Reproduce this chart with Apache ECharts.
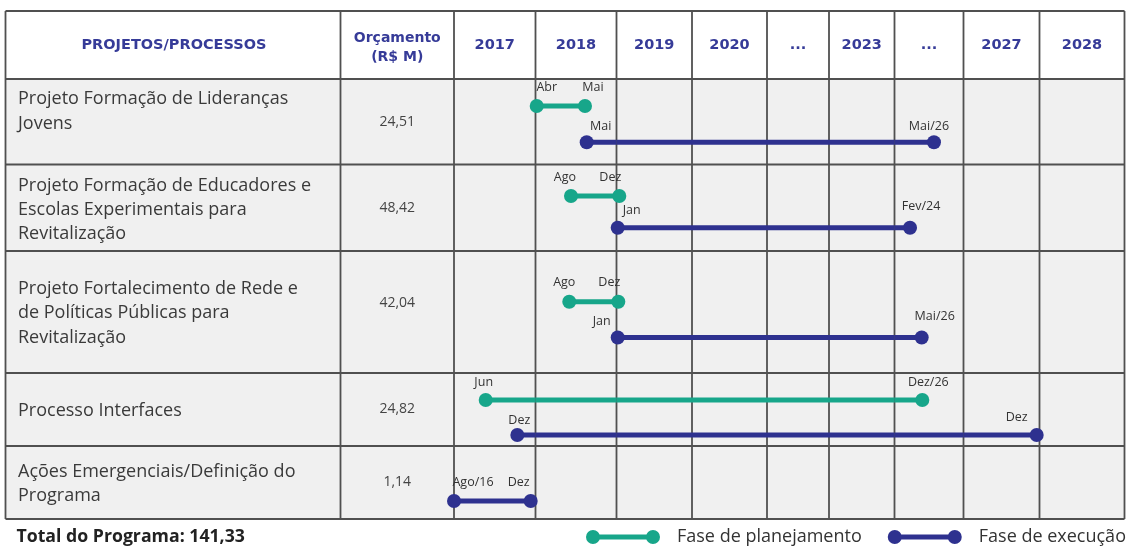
<!DOCTYPE html>
<html><head><meta charset="utf-8">
<script src="https://cdn.jsdelivr.net/npm/echarts@6/dist/echarts.min.js"></script>
<style>html,body{margin:0;padding:0;background:#fff}#c{width:1131px;height:547px}</style>
</head><body><div id="c"></div>
<script>
// ---------------- DATA ----------------
const projects = [
  'Projeto Formação de Lideranças\nJovens',
  'Projeto Formação de Educadores e\nEscolas Experimentais para\nRevitalização',
  'Projeto Fortalecimento de Rede e\nde Políticas Públicas para\nRevitalização',
  'Processo Interfaces',
  'Ações Emergenciais/Definição do\nPrograma'
];
const budgets = ['24,51', '48,42', '42,04', '24,82', '1,14'];
const columnLabels = ['2017', '2018', '2019', '2020', '...', '2023', '...', '2027', '2028'];
// positions on the timeline, in column units (0 = start of the 2017 column)
const planStart = [1.015, 1.438, 1.417, 0.389, null];
const planEnd   = [1.611, 2.037, 2.024, 6.403, null];
const planStartLabel = ['Abr', 'Ago', 'Ago', 'Jun', null];
const planEndLabel   = ['Mai', 'Dez', 'Dez', 'Dez/26', null];
const execStart = [1.632, 2.016, 2.016, 0.777, 0.0];
const execEnd   = [6.572, 6.225, 6.394, 7.963, 0.941];
const execStartLabel = ['Mai', 'Jan', 'Jan', 'Dez', 'Ago/16'];
const execEndLabel   = ['Mai/26', 'Fev/24', 'Mai/26', 'Dez', 'Dez'];
const headerProjects = 'PROJETOS/PROCESSOS';
const headerBudget = 'Orçamento\n(R$ M)';
const totalText = 'Total do Programa: 141,33';
const phaseNames = ['Fase de planejamento', 'Fase de execução'];

// ---------------- LAYOUT / STYLE ----------------
const colEdges = [5.5, 340.5, 454, 535.5, 616.5, 692, 767, 829, 894.5, 963.5, 1039.5, 1124.5];
const rowEdges = [11, 79, 164.5, 251, 373, 446, 519];
const planLane = [0.316, 0.364, 0.416, 0.37, null];
const execLane = [0.739, 0.732, 0.709, 0.849, 0.753];
const planLabelOff = [[[10, -19], [8, -19]], [[-6, -19], [-9, -19]], [[-5, -19], [-9, -19]], [[-2, -18], [6, -18]], null];
const execLabelOff = [[[14, -16], [-5, -16]], [[14, -17], [11, -21]], [[-16, -16], [13, -21]], [[2, -15], [-20, -18]], [[19, -19], [-12, -19]]];
const rowTextCenter = [111.5, 209.8, 313.3, 410.8, 483.8];
const rowTextLH = [25, 24.2, 24.2, 24, 24];
const budgetY = [121.7, 208.3, 303.3, 409, 481.7];
const GREEN = '#17a68a', BLUE = '#2e318f', HEAD = '#363b98', TXT = '#3a3a3a', LINE = '#505050';
const FONT = 'Open Sans';
const NCOL = columnLabels.length, TL0 = 2;

const chart = echarts.init(document.getElementById('c'), null, {renderer: 'canvas'});

const grids = [], xAxes = [], yAxes = [];
for (let r = 0; r < projects.length; r++) {
  for (let c = 0; c < NCOL; c++) {
    const i = grids.length;
    grids.push({left: colEdges[TL0 + c], width: colEdges[TL0 + c + 1] - colEdges[TL0 + c],
      top: rowEdges[r + 1], height: rowEdges[r + 2] - rowEdges[r + 1], containLabel: false, show: false});
    xAxes.push({gridIndex: i, type: 'value', min: c, max: c + 1, show: false});
    yAxes.push({gridIndex: i, type: 'value', min: 0, max: 1, inverse: true, show: false});
  }
}

const labelStyle = {color: '#333', fontFamily: FONT, fontSize: 12.5};
const series = [];
function addPhase(r, a, b, lane, lblA, lblB, offs, name, color) {
  for (let c = Math.floor(a); c < Math.ceil(b); c++) {
    const x1 = Math.max(a, c), x2 = Math.min(b, c + 1);
    const pt = (x, isEnd, lbl, off) => isEnd
      ? {value: [x, lane], symbol: 'circle', label: Object.assign({show: true, formatter: lbl, position: 'inside', offset: off}, labelStyle)}
      : {value: [x, lane], symbol: 'none'};
    const gi = r * NCOL + c;
    series.push({
      type: 'line', name: name, xAxisIndex: gi, yAxisIndex: gi,
      data: [pt(x1, x1 === a, lblA, offs[0]), pt(x2, x2 === b, lblB, offs[1])],
      symbolSize: 14, showSymbol: true, clip: false, silent: true, animation: false, z: 5,
      lineStyle: {width: 5, color: color}, itemStyle: {color: color},
      label: {show: false}
    });
  }
}
for (let r = 0; r < projects.length; r++) {
  if (planStart[r] !== null) addPhase(r, planStart[r], planEnd[r], planLane[r], planStartLabel[r], planEndLabel[r], planLabelOff[r], phaseNames[0], GREEN);
  addPhase(r, execStart[r], execEnd[r], execLane[r], execStartLabel[r], execEndLabel[r], execLabelOff[r], phaseNames[1], BLUE);
}

// table graphics
const g = [];
const L = colEdges[0], R = colEdges[colEdges.length - 1], T = rowEdges[0], B = rowEdges[rowEdges.length - 1];
g.push({type: 'rect', z: 0, shape: {x: L, y: rowEdges[1], width: R - L, height: B - rowEdges[1]}, style: {fill: '#f0f0f0'}});
g.push({type: 'rect', z: 0, shape: {x: L, y: T, width: R - L, height: rowEdges[1] - T}, style: {fill: '#ffffff'}});
for (const y of rowEdges) g.push({type: 'line', z: 1, shape: {x1: L, y1: y, x2: R, y2: y}, style: {stroke: LINE, lineWidth: 1.8}});
for (const x of colEdges) g.push({type: 'line', z: 1, shape: {x1: x, y1: T, x2: x, y2: B}, style: {stroke: LINE, lineWidth: 1.8}});
const headY = (rowEdges[0] + rowEdges[1]) / 2 + 0.7;
const headFont = {fontFamily: 'DejaVu Sans', fontWeight: 'bold', fill: HEAD, align: 'center', verticalAlign: 'middle'};
g.push({type: 'text', z: 3, style: Object.assign({text: headerProjects, x: (colEdges[0] + colEdges[1]) / 2 + 1, y: headY, fontSize: 14.5}, headFont)});
g.push({type: 'text', z: 3, style: Object.assign({text: headerBudget, x: (colEdges[1] + colEdges[2]) / 2, y: headY + 2, fontSize: 14, lineHeight: 18.4}, headFont)});
columnLabels.forEach((t, c) => {
  g.push({type: 'text', z: 3, style: Object.assign({text: t, x: (colEdges[TL0 + c] + colEdges[TL0 + c + 1]) / 2, y: headY, fontSize: 14.5}, headFont)});
});
projects.forEach((t, r) => {
  g.push({type: 'text', z: 3, style: {text: t, x: 18, y: rowTextCenter[r], fontFamily: FONT, fontSize: 18, lineHeight: rowTextLH[r], fill: TXT, align: 'left', verticalAlign: 'middle'}});
  g.push({type: 'text', z: 3, style: {text: budgets[r], x: (colEdges[1] + colEdges[2]) / 2, y: budgetY[r], fontFamily: FONT, fontSize: 14, fill: '#444', align: 'center', verticalAlign: 'middle'}});
});
g.push({type: 'text', z: 3, style: {text: totalText, x: 16.5, y: 536.5, fontFamily: FONT, fontWeight: 'bold', fontSize: 17.7, fill: '#222', align: 'left', verticalAlign: 'middle'}});

const ICON = 'path://M0,7 A7,7 0 1,1 14,7 A7,7 0 1,1 0,7 Z M60,7 A7,7 0 1,1 74,7 A7,7 0 1,1 60,7 Z M7,4.5 L67,4.5 L67,9.5 L7,9.5 Z';

chart.setOption({
  animation: false,
  backgroundColor: '#ffffff',
  grid: grids, xAxis: xAxes, yAxis: yAxes,
  graphic: {elements: g},
  legend: {
    left: 586, top: 528, padding: 0, itemWidth: 74, itemHeight: 14, itemGap: 26, selectedMode: false,
    data: phaseNames.map(n => ({name: n, icon: ICON})),
    itemStyle: {borderWidth: 0},
    textStyle: {fontFamily: FONT, fontSize: 18, color: '#333', padding: [0, 0, 0, 12]}
  },
  series: series
});
</script></body></html>
